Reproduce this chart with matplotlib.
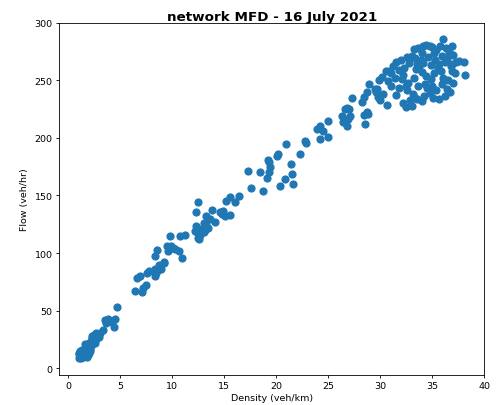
import matplotlib
matplotlib.use('Agg')
import matplotlib.pyplot as plt

# Density (veh/km) and flow (veh/hr), grouped by region
low_density = [1.0, 1.1, 1.05, 1.2, 1.3, 1.25, 1.4, 1.5, 1.35, 1.6, 1.45, 1.7, 1.8, 1.55, 1.9,
               1.7, 2.0, 1.85, 2.1, 2.0, 2.2, 2.3, 2.15, 2.4, 2.3, 2.5, 2.6, 2.45, 2.7, 2.8,
               2.65, 2.9, 3.0, 1.15, 1.9, 2.05, 1.6, 2.25, 2.55, 1.0, 1.1, 1.3, 1.75,
               3.6, 3.3, 3.5, 3.8, 4.2, 4.5, 4.35, 4.65]
low_flow = [9, 11, 13, 8.5, 10, 12.5, 9.5, 11, 14, 13, 15.5, 12, 14.5, 17, 16,
            18.5, 13.5, 20, 17, 22, 19.5, 21, 24, 23, 26, 24.5, 27, 28.5, 25.5, 29,
            31, 27.5, 30.5, 15, 11.5, 15, 21, 28, 22, 12, 10, 16, 10,
            39.5, 33, 41.5, 42.5, 40, 42.5, 36, 53.5]

mid_density = [6.45, 7.1, 7.2, 7.5, 6.6, 6.9, 7.55, 7.8, 8.3, 8.4, 8.6, 8.9, 8.35, 8.7, 9.15,
               9.2, 8.3, 8.55, 9.5, 9.7, 9.6, 9.9, 10.1, 10.3, 10.6, 10.9, 9.75, 10.75, 11.2,
               12.2, 12.3, 12.5, 12.6, 12.7, 12.4, 13.0, 13.1, 13.2, 13.0, 12.3, 12.5, 13.2,
               13.6, 14.1, 13.8, 14.6, 14.9, 15.1, 15.5, 14.8, 15.2, 15.5, 16.0, 16.4, 12.8, 13.4]
mid_flow = [67.5, 66, 69.5, 72.5, 78, 80, 83, 84.5, 80.5, 83, 85, 85.8, 86.5, 90, 91.5,
            92, 97.2, 102.5, 106, 104, 102, 106.5, 104.5, 103.5, 102, 95.5, 114.5, 115, 115.5,
            119.5, 123.8, 113.5, 112, 116, 118, 118.5, 120, 124, 126, 135.5, 144.5, 132.5,
            129.5, 127.3, 137.7, 135.4, 136.8, 132.5, 132.8, 134, 145.5, 148.4, 144.6, 149.3, 121, 121.5]

upper_density = [17.6, 17.3, 18.4, 18.75, 19.1, 19.3, 19.4, 19.3, 19.2, 20.1, 20.2, 20.9, 20.4,
                 20.8, 21.4, 21.5, 21.6, 22.3, 22.8, 22.9, 23.9, 24.2, 24.5, 24.2, 25.0, 25.0,
                 26.3, 26.6, 26.9, 26.4, 26.8, 27.3, 27.0, 28.2, 28.4, 28.7, 28.9, 29.5, 28.7,
                 28.4, 27.1, 26.8, 28.5, 28.8, 29.7, 29.8]
upper_flow = [156.5, 171, 170.7, 154, 165, 170, 174.5, 178.8, 181, 184.5, 186, 194.7, 158.5,
              164.3, 177.3, 168.7, 160, 186, 197.6, 196, 207.7, 210, 206.3, 199, 200.5, 214.9,
              219.3, 225, 216.4, 213.5, 210.6, 234.6, 225, 230.9, 235.2, 239.6, 246.8, 242.4, 222.2,
              219.9, 219, 226, 212, 220.5, 242.4, 235.2]

top_density = [36.0, 36.9, 34.1, 34.8, 33.2, 35.4, 38.0, 37.3, 36.9, 38.1, 36.4, 35.1, 33.5, 32.5,
               30.8, 30.7, 30.6,
               33.6, 34.4, 35.0, 35.7, 36.3, 35.2, 34.0, 36.6, 37.0, 33.0,
               31.5, 32.0, 32.6, 33.3, 33.9, 34.6, 35.3, 35.9, 36.4, 36.2, 34.1, 32.8, 33.5, 35.6,
               36.8, 34.9, 31.2, 37.6,
               30.5, 31.0, 31.8, 32.3, 33.4, 34.0, 35.2, 35.8, 36.9, 37.2, 33.7,
               32.2, 34.4, 35.5, 31.4,
               29.9, 31.0, 32.1, 32.7, 33.2, 34.3, 34.9, 35.9, 36.5, 32.5,
               33.6, 30.2, 35.0, 36.0, 37.0,
               29.6, 30.3, 31.5, 32.6, 33.1, 34.2, 34.8, 35.4, 36.2, 31.8,
               33.3, 34.5, 36.7, 32.9,
               32.2, 33.0, 34.0, 35.6, 30.0]
top_flow = [285.9, 280, 280, 280, 277, 276.6, 266, 265.6, 264, 254.6, 242.4, 235, 233.8, 226.6,
            258.3, 249.7, 228.6,
            278, 281, 279, 280, 278, 274, 274, 275, 272, 271,
            266, 268, 270, 269, 268, 270, 268, 271, 269, 266, 265, 265, 264, 264,
            262, 263, 262, 267,
            258, 256, 259, 261, 260, 257, 256, 258, 258, 256, 262,
            255, 254, 261, 252,
            250, 245, 251, 248, 252, 247, 251, 247, 250, 245,
            245, 253, 245, 252, 248,
            240, 238, 237, 242, 238, 236, 239, 242, 236, 243,
            235, 243, 240, 233,
            230, 228, 232, 234, 233]

density = low_density + mid_density + upper_density + top_density
flow = low_flow + mid_flow + upper_flow + top_flow

fig = plt.figure(figsize=(5.02, 4.06), dpi=100)
ax = fig.add_axes([0.1175, 0.074, 0.8473, 0.8676])
ax.scatter(density, flow, s=24, color='#1f77b4')

ax.set_xlim(-0.9, 40)
ax.set_ylim(-5.8, 300)
ax.set_xticks([0, 5, 10, 15, 20, 25, 30, 35, 40])
ax.set_yticks([0, 50, 100, 150, 200, 250, 300])
ax.tick_params(labelsize=6.8, length=2.5, width=0.6, pad=2)
for s in ax.spines.values():
    s.set_linewidth(0.6)

ax.set_title('network MFD - 16 July 2021', fontsize=9.7, fontweight='bold', pad=1)
ax.set_xlabel('Density (veh/km)', fontsize=6.8, labelpad=2)
ax.set_ylabel('Flow (veh/hr)', fontsize=6.8, labelpad=4)

fig.savefig('out.png', dpi=100)
